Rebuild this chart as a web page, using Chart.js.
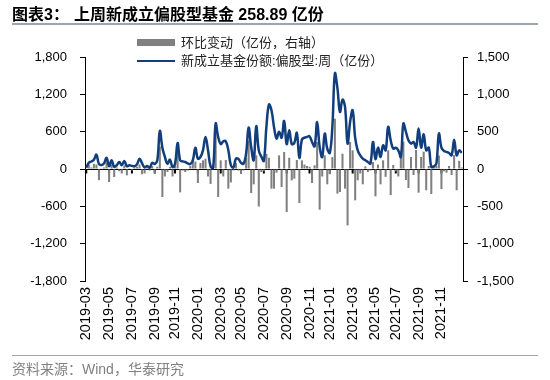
<!DOCTYPE html>
<html>
<head>
<meta charset="utf-8">
<script src="https://cdn.jsdelivr.net/npm/chart.js@4.4.1/dist/chart.umd.min.js"></script>
<style>
  html, body { margin: 0; padding: 0; background: #fff; }
  #wrap { position: relative; width: 550px; height: 380px; overflow: hidden; font-family: "Liberation Sans", Arial, "Noto Sans CJK SC", sans-serif; }
  #title { position: absolute; left: 12px; top: 4px; font-size: 16px; font-weight: bold; color: #000; white-space: nowrap; line-height: 22px; }
  #rule1 { position: absolute; left: 12px; top: 23px; width: 526px; height: 2px; background: #9ea6ad; }
  #rule2 { position: absolute; left: 12px; top: 355px; width: 526px; height: 1px; background: #9ea6ad; }
  #source { position: absolute; left: 12px; top: 360px; font-size: 14px; color: #808080; white-space: nowrap; line-height: 18px; }
  #legend { position: absolute; left: 137px; top: 34px; font-size: 13px; color: #222; }
  .li { height: 18px; line-height: 18px; white-space: nowrap; position: relative; padding-left: 44px; }
  .sw { position: absolute; left: 0; }
  canvas { position: absolute; left: 0; top: 0; }
</style>
</head>
<body>
<div id="wrap">
  <canvas id="c" width="550" height="380"></canvas>
  <div id="title">图表3：<span style="margin-left:5px">上周新成立偏股型基金 258.89 亿份</span></div>
  <div id="rule1"></div>
  <div id="legend"></div>
  <div id="rule2"></div>
  <div id="source">资料来源：Wind，华泰研究</div>
</div>
<script>
const weeks = [
"2019-03-01","2019-03-08","2019-03-15","2019-03-22","2019-03-29","2019-04-05","2019-04-12","2019-04-19","2019-04-26",
"2019-05-03","2019-05-10","2019-05-17","2019-05-24","2019-05-31","2019-06-07","2019-06-14","2019-06-21","2019-06-28",
"2019-07-05","2019-07-12","2019-07-19","2019-07-26","2019-08-02","2019-08-09","2019-08-16","2019-08-23","2019-08-30",
"2019-09-06","2019-09-13","2019-09-20","2019-09-27","2019-10-04","2019-10-11","2019-10-18","2019-10-25",
"2019-11-01","2019-11-08","2019-11-15","2019-11-22","2019-11-29","2019-12-06","2019-12-13","2019-12-20","2019-12-27",
"2020-01-03","2020-01-10","2020-01-17","2020-01-24","2020-01-31","2020-02-07","2020-02-14","2020-02-21","2020-02-28",
"2020-03-06","2020-03-13","2020-03-20","2020-03-27","2020-04-03","2020-04-10","2020-04-17","2020-04-24",
"2020-05-01","2020-05-08","2020-05-15","2020-05-22","2020-05-29","2020-06-05","2020-06-12","2020-06-19","2020-06-26",
"2020-07-03","2020-07-10","2020-07-17","2020-07-24","2020-07-31","2020-08-07","2020-08-14","2020-08-21","2020-08-28",
"2020-09-04","2020-09-11","2020-09-18","2020-09-25","2020-10-02","2020-10-09","2020-10-16","2020-10-23","2020-10-30",
"2020-11-06","2020-11-13","2020-11-20","2020-11-27","2020-12-04","2020-12-11","2020-12-18","2020-12-25",
"2021-01-01","2021-01-08","2021-01-15","2021-01-22","2021-01-29","2021-02-05","2021-02-12","2021-02-19","2021-02-26",
"2021-03-05","2021-03-12","2021-03-19","2021-03-26","2021-04-02","2021-04-09","2021-04-16","2021-04-23","2021-04-30",
"2021-05-07","2021-05-14","2021-05-21","2021-05-28","2021-06-04","2021-06-11","2021-06-18","2021-06-25",
"2021-07-02","2021-07-09","2021-07-16","2021-07-23","2021-07-30","2021-08-06","2021-08-13","2021-08-20","2021-08-27",
"2021-09-03","2021-09-10","2021-09-17","2021-09-24","2021-10-01","2021-10-08","2021-10-15","2021-10-22","2021-10-29",
"2021-11-05","2021-11-12","2021-11-19","2021-11-26","2021-12-03","2021-12-10","2021-12-17","2021-12-24","2021-12-31"
];

// 新成立基金份额:偏股型:周（亿份）— left axis
const newShares = [
20,100,120,150,230,80,65,90,180,45,
140,35,60,113,60,130,45,60,50,45,
75,165,90,25,50,20,100,80,140,612,
343,193,86,150,30,86,418,140,123,113,
90,80,140,343,166,193,300,515,300,43,
20,730,515,400,445,445,300,60,25,166,
160,100,86,247,665,354,140,687,300,200,
130,676,1036,944,676,488,600,504,773,400,
622,400,418,580,180,472,504,515,526,434,
365,756,354,193,569,327,258,676,1535,1300,
917,1116,998,408,756,944,500,300,220,166,
140,113,86,434,160,343,193,381,300,676,
461,327,343,300,193,730,596,461,408,434,
343,650,343,558,300,343,32,43,86,569,
343,290,274,258,220,472,220,300,259
];

// 环比变动（亿份，右轴）
const weeklyChange = [
0,60,20,70,60,-150,10,20,90,-175,
60,-107,20,-30,-60,50,-85,10,-20,20,
30,60,-70,-60,20,-20,40,-60,30,300,
-375,-100,-40,30,-100,40,250,-313,-20,-40,
-20,40,116,100,-188,80,116,138,-100,-200,
50,500,-375,116,-100,120,-263,-180,-20,80,
-20,-60,-20,150,380,-322,-205,183,-502,-40,
-30,205,150,-263,-263,-50,183,-241,228,-576,
150,-152,-130,120,-456,116,60,40,30,-188,
50,362,-545,-100,183,-205,-70,160,674,-330,
-308,205,-263,-755,362,250,-420,-152,-60,-205,
35,-40,-20,94,-366,60,-205,116,-105,250,
-350,54,-30,-100,188,366,-147,-255,161,-80,
255,-317,161,232,-285,40,-335,30,40,180,
-268,-30,-50,40,-80,188,-285,110,20
];

const leftTicks = [-1800, -1200, -600, 0, 600, 1200, 1800];
const rightTicks = [-1500, -1000, -500, 0, 500, 1000, 1500];

const barName = "环比变动（亿份，右轴）";
const lineName = "新成立基金份额:偏股型:周（亿份）";
const barColor = "#808080";
const lineColor = "#113e7c";

function tickLabel(i) {
  const d = weeks[i];
  const m = +d.slice(5, 7), day = +d.slice(8, 10);
  return (day <= 7 && m % 2 === 1) ? d.slice(0, 7) : null;
}

const fontFam = "'Liberation Sans', Arial, sans-serif";

const zeroPlugin = {
  id: 'zeroLine',
  beforeDatasetsDraw(chart) {
    const { ctx, chartArea, scales } = chart;
    const y0 = Math.round(scales.y.getPixelForValue(0)) + 0.5;
    ctx.save();
    ctx.strokeStyle = '#000';
    ctx.lineWidth = 1;
    ctx.beginPath();
    ctx.moveTo(chartArea.left, y0);
    ctx.lineTo(chartArea.right, y0);
    ctx.stroke();
    ctx.lineWidth = 2;
    for (let i = 0; i < weeks.length; i++) {
      if (tickLabel(i)) {
        const x = scales.x.getPixelForValue(i);
        ctx.beginPath();
        ctx.moveTo(x, y0);
        ctx.lineTo(x, y0 + 4);
        ctx.stroke();
      }
    }
    ctx.restore();
  }
};

const chart = new Chart(document.getElementById('c'), {
  data: {
    labels: weeks,
    datasets: [
      {
        type: 'line', label: lineName, data: newShares, yAxisID: 'y',
        borderColor: lineColor, borderWidth: 2.5, pointRadius: 0, tension: 0.4,
        fill: false, order: 0
      },
      {
        type: 'bar', label: barName, data: weeklyChange, yAxisID: 'y1',
        backgroundColor: barColor, borderWidth: 0,
        barPercentage: 0.9, categoryPercentage: 0.9, order: 1
      }
    ]
  },
  options: {
    responsive: false,
    animation: false,
    layout: { padding: { top: 57, left: 0, right: 0, bottom: 0 } },
    plugins: { legend: { display: false }, tooltip: { enabled: false }, title: { display: false } },
    scales: {
      x: {
        type: 'category',
        offset: true,
        grid: { display: false, drawTicks: false },
        border: { display: false },
        ticks: {
          autoSkip: false, minRotation: 90, maxRotation: 90, padding: 6,
          color: '#000', font: { family: fontFam, size: 14.5 },
          callback: (v, i) => tickLabel(i)
        },
        afterFit: (s) => { s.height = 99; }
      },
      y: {
        position: 'left', min: -1800, max: 1800,
        afterBuildTicks: (s) => { s.ticks = leftTicks.map(v => ({ value: v })); },
        grid: { drawOnChartArea: false, drawTicks: true, tickLength: 5, color: '#000' },
        border: { display: true, color: '#000', width: 1 },
        ticks: {
          padding: 13, color: '#000', font: { family: fontFam, size: 13 },
          callback: (v) => v.toLocaleString('en-US')
        },
        afterFit: (s) => { s.width = 85; }
      },
      y1: {
        position: 'right', min: -1500, max: 1500,
        afterBuildTicks: (s) => { s.ticks = rightTicks.map(v => ({ value: v })); },
        grid: { drawOnChartArea: false, drawTicks: true, tickLength: 5, color: '#000' },
        border: { display: true, color: '#000', width: 1 },
        ticks: {
          padding: 9, color: '#000', font: { family: fontFam, size: 13 },
          callback: (v) => v.toLocaleString('en-US')
        },
        afterFit: (s) => { s.width = 87; }
      }
    }
  },
  plugins: [zeroPlugin]
});

// HTML legend from the chart's own datasets (bar first, as in the reference)
const legend = document.getElementById('legend');
[1, 0].forEach(idx => {
  const ds = chart.data.datasets[idx];
  const row = document.createElement('div');
  row.className = 'li';
  const sw = document.createElement('span');
  sw.className = 'sw';
  if (ds.type === 'bar') {
    sw.style.cssText = 'left:0;top:5px;width:38px;height:7px;background:' + ds.backgroundColor;
  } else {
    sw.style.cssText = 'left:0;top:8px;width:38px;height:2px;background:' + ds.borderColor;
  }
  row.appendChild(sw);
  row.appendChild(document.createTextNode(ds.label));
  legend.appendChild(row);
});
</script>
</body>
</html>
